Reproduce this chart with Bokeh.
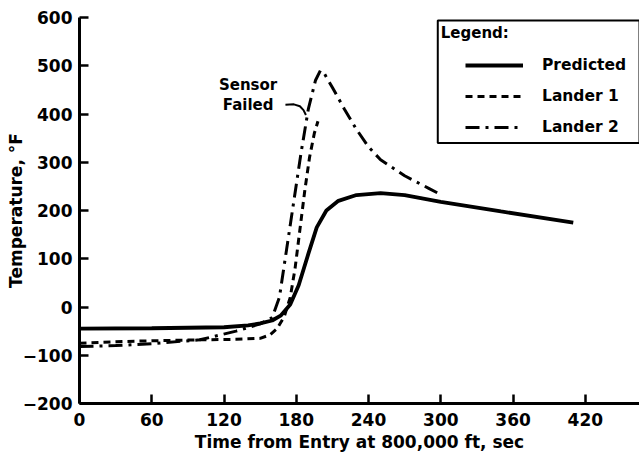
from bokeh.plotting import figure
from bokeh.models import Range1d, Legend, LegendItem, BoxAnnotation, Label, FixedTicker
from bokeh.embed import file_html
from bokeh.resources import INLINE

# ---- data ----
pred_t = [0, 60, 120, 140, 150, 160, 167, 175, 182, 190, 197, 205, 215, 230, 250, 270, 300, 350, 410]
pred_T = [-45, -44, -42, -38, -34, -28, -18, 5, 45, 110, 165, 200, 220, 232, 236, 232, 218, 198, 175]

l1_t = [0, 30, 60, 100, 130, 150, 158, 164, 170, 175, 179, 183, 187, 191, 195, 198]
l1_T = [-75, -72, -70, -68, -67, -65, -58, -45, -20, 20, 80, 160, 240, 310, 360, 385]

l2_t = [0, 30, 60, 100, 130, 150, 160, 166, 172, 178, 184, 190, 196, 200, 203, 210, 220, 230, 240, 250, 270, 290, 300]
l2_T = [-82, -80, -76, -68, -50, -35, -22, 20, 120, 220, 320, 410, 470, 490, 485, 455, 410, 368, 332, 305, 272, 246, 233]

x_ticks = [0, 60, 120, 180, 240, 300, 360, 420]
y_ticks = [-200, -100, 0, 100, 200, 300, 400, 500, 600]

# annotation leader ("Sensor Failed")
lead_t = [171, 178, 183, 186, 188]
lead_T = [419, 420, 416, 408, 398]

FONT = "DejaVu Sans"

p = figure(width=639, height=458, output_backend="svg", toolbar_location=None,
           x_range=Range1d(0, 465), y_range=Range1d(-200, 600),
           min_border_left=79, min_border_right=0, min_border_top=17, min_border_bottom=55)
p.outline_line_color = None
p.xgrid.visible = False
p.ygrid.visible = False

for ax in (p.xaxis[0], p.yaxis[0]):
    ax.axis_line_width = 3
    ax.axis_line_color = "black"
    ax.major_tick_line_width = 2.5
    ax.major_tick_in = 9
    ax.major_tick_out = 0
    ax.minor_tick_line_color = None
    ax.major_label_text_font = FONT
    ax.major_label_text_font_style = "bold"
    ax.major_label_text_font_size = "17px"
    ax.major_label_text_color = "black"
    ax.axis_label_text_font = FONT
    ax.axis_label_text_font_style = "bold"
    ax.axis_label_text_color = "black"
    ax.axis_label_text_font_size = "17px"

p.xaxis.ticker = FixedTicker(ticks=x_ticks)
p.yaxis.ticker = FixedTicker(ticks=y_ticks)
p.xaxis.major_label_standoff = 9
p.yaxis.major_label_standoff = 7
p.xaxis.axis_label = "Time from Entry at 800,000 ft, sec"
p.xaxis.axis_label_standoff = 3
p.yaxis.axis_label = "Temperature, \u00b0F"
p.yaxis.axis_label_standoff = -6

r_pred = p.line(pred_t, pred_T, line_color="black", line_width=3.8)
r_l1 = p.line(l1_t, l1_T, line_color="black", line_width=3, line_dash="7 5")
r_l2 = p.line(l2_t, l2_T, line_color="black", line_width=3, line_dash="14 6 3 6")

p.line(lead_t, lead_T, line_color="black", line_width=2)
p.add_layout(Label(x=140, y=460, text="Sensor", text_align="center", text_baseline="middle",
                   text_color="black",
                   text_font=FONT, text_font_style="bold", text_font_size="15px"))
p.add_layout(Label(x=140, y=419, text="Failed", text_align="center", text_baseline="middle",
                   text_color="black",
                   text_font=FONT, text_font_style="bold", text_font_size="15px"))

# legend frame
p.add_layout(BoxAnnotation(left=297.5, right=465, top=594, bottom=340,
                           fill_color="white", fill_alpha=1.0,
                           line_color="black", line_alpha=1.0, line_width=2))
p.add_layout(Label(x=300, y=568, text="Legend:", text_baseline="middle", text_color="black",
                   text_font=FONT, text_font_style="bold", text_font_size="15px"))

legend = Legend(items=[LegendItem(label="Predicted", renderers=[r_pred]),
                       LegendItem(label="Lander 1", renderers=[r_l1]),
                       LegendItem(label="Lander 2", renderers=[r_l2])],
                location=(386, 266), padding=0, margin=0, spacing=11,
                glyph_width=58, glyph_height=20, label_height=20, label_standoff=19,
                border_line_color=None, background_fill_alpha=0,
                label_text_color="black",
                label_text_font=FONT, label_text_font_style="bold", label_text_font_size="15.5px")
p.add_layout(legend)

open("out.html", "w").write(file_html(p, INLINE))
